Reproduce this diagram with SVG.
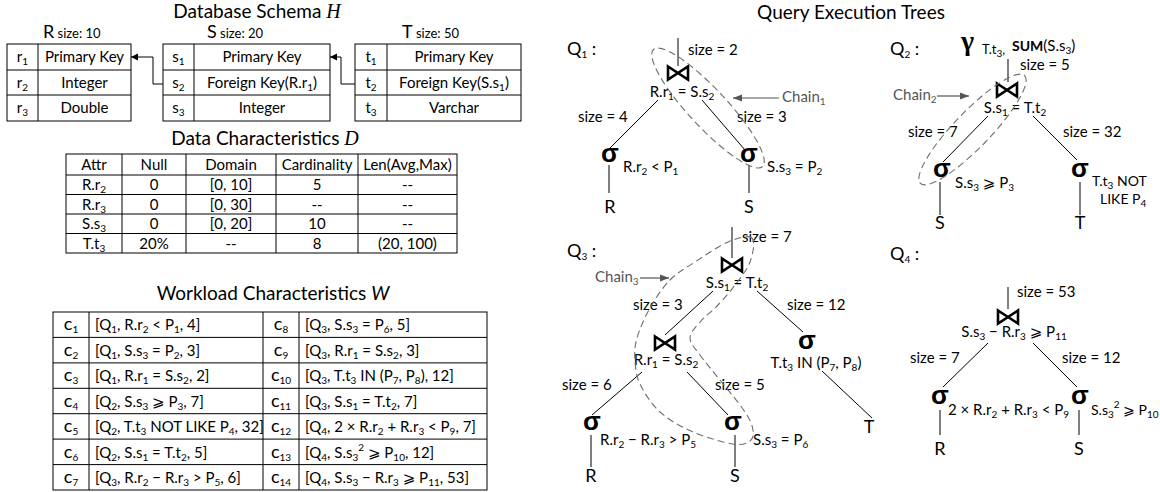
<svg xmlns="http://www.w3.org/2000/svg" width="1160" height="492" viewBox="0 0 1160 492">
<style>
text{font-family:Lato,"DejaVu Sans",sans-serif;font-size:15px;fill:#000}
.m{text-anchor:middle}
.ttl{font-size:19px;text-anchor:middle}
.mi{font-family:"Liberation Serif",serif;font-style:italic;font-size:20px}
.wi{font-style:italic}
.s{font-size:10px;baseline-shift:-3px}
.u{font-size:10px;baseline-shift:7px}
.sm{font-size:13px}
.bg{font-size:18px}
.cl{font-size:18px}
.sig{font-family:"Liberation Sans",sans-serif;font-weight:bold;font-size:26px;text-anchor:middle}
.lf{font-size:18px;text-anchor:middle}
.q{font-size:18px}
.g{fill:none;stroke:#000;stroke-width:1}
.e{fill:none;stroke:#000;stroke-width:1}
.ch{fill:none;stroke:#6e6e6e;stroke-width:1.1;stroke-dasharray:7 4}
.ct{fill:#555}
.ca{stroke:#555;stroke-width:1.2;fill:none}
</style>
<defs>
<marker id="ab" markerWidth="8" markerHeight="8" refX="7" refY="4" orient="auto" markerUnits="userSpaceOnUse"><path d="M0,0.5 L7,4 L0,7.5 Z" fill="#000"/></marker>
<marker id="ag" markerWidth="10" markerHeight="8" refX="9" refY="4" orient="auto" markerUnits="userSpaceOnUse"><path d="M0,0.5 L9,4 L0,7.5 Z" fill="#555"/></marker>
<path id="join" d="M-10,-6.5 L10,6.5 L10,-6.5 L-10,6.5 Z" fill="none" stroke="#000" stroke-width="2.6" stroke-linejoin="miter"/>
</defs>

<!-- Titles -->
<g id="titles">
<text class="ttl" x="257" y="18">Database Schema <tspan class="mi">H</tspan></text>
<text class="ttl" x="265" y="145">Data Characteristics <tspan class="mi">D</tspan></text>
<text class="ttl" x="273" y="300">Workload Characteristics <tspan class="wi">W</tspan></text>
<text class="ttl" x="851" y="19">Query Execution Trees</text>
</g>

<!-- Schema tables -->
<g id="table-R">
<text x="43" y="38"><tspan class="bg">R</tspan><tspan class="sm"> size: 10</tspan></text>
<rect class="g" x="7" y="44" width="124" height="77"/>
<path class="g" d="M7,70H131M7,95H131M38,44V121"/>
<text class="m" x="22.5" y="62">r<tspan class="s">1</tspan></text>
<text class="m" x="84.5" y="62">Primary Key</text>
<text class="m" x="22.5" y="88">r<tspan class="s">2</tspan></text>
<text class="m" x="84.5" y="88">Integer</text>
<text class="m" x="22.5" y="113">r<tspan class="s">3</tspan></text>
<text class="m" x="84.5" y="113">Double</text>
</g>
<g id="table-S">
<text x="207" y="38"><tspan class="bg">S</tspan><tspan class="sm"> size: 20</tspan></text>
<rect class="g" x="163" y="44" width="167" height="77"/>
<path class="g" d="M163,70H330M163,95H330M194,44V121"/>
<text class="m" x="178.5" y="62">s<tspan class="s">1</tspan></text>
<text class="m" x="262" y="62">Primary Key</text>
<text class="m" x="178.5" y="88">s<tspan class="s">2</tspan></text>
<text class="m" x="262" y="88">Foreign Key(R.r<tspan class="s">1</tspan>)</text>
<text class="m" x="178.5" y="113">s<tspan class="s">3</tspan></text>
<text class="m" x="262" y="113">Integer</text>
</g>
<g id="table-T">
<text x="402" y="38"><tspan class="bg">T</tspan><tspan class="sm"> size: 50</tspan></text>
<rect class="g" x="355" y="44" width="166" height="77"/>
<path class="g" d="M355,70H521M355,95H521M387,44V121"/>
<text class="m" x="371" y="62">t<tspan class="s">1</tspan></text>
<text class="m" x="454" y="62">Primary Key</text>
<text class="m" x="371" y="88">t<tspan class="s">2</tspan></text>
<text class="m" x="454" y="88">Foreign Key(S.s<tspan class="s">1</tspan>)</text>
<text class="m" x="371" y="113">t<tspan class="s">3</tspan></text>
<text class="m" x="454" y="113">Varchar</text>
</g>

<!-- Data characteristics table -->
<g id="table-D">
<rect class="g" x="66" y="154" width="391" height="99"/>
<path class="g" d="M66,175H457M66,194.5H457M66,214H457M66,233.5H457M122,154V253M186,154V253M276,154V253M358,154V253"/>
<text class="m" x="94" y="170">Attr</text>
<text class="m" x="154" y="170">Null</text>
<text class="m" x="231" y="170">Domain</text>
<text class="m" x="317" y="170">Cardinality</text>
<text class="m" x="407.5" y="170">Len(Avg,Max)</text>
<text class="m" x="94" y="190">R.r<tspan class="s">2</tspan></text>
<text class="m" x="154" y="190">0</text>
<text class="m" x="231" y="190">[0, 10]</text>
<text class="m" x="317" y="190">5</text>
<text class="m" x="407.5" y="190">--</text>
<text class="m" x="94" y="209.5">R.r<tspan class="s">3</tspan></text>
<text class="m" x="154" y="209.5">0</text>
<text class="m" x="231" y="209.5">[0, 30]</text>
<text class="m" x="317" y="209.5">--</text>
<text class="m" x="407.5" y="209.5">--</text>
<text class="m" x="94" y="229">S.s<tspan class="s">3</tspan></text>
<text class="m" x="154" y="229">0</text>
<text class="m" x="231" y="229">[0, 20]</text>
<text class="m" x="317" y="229">10</text>
<text class="m" x="407.5" y="229">--</text>
<text class="m" x="94" y="248.5">T.t<tspan class="s">3</tspan></text>
<text class="m" x="154" y="248.5">20%</text>
<text class="m" x="231" y="248.5">--</text>
<text class="m" x="317" y="248.5">8</text>
<text class="m" x="407.5" y="248.5">(20, 100)</text>
</g>

<!-- Workload table -->
<g id="table-W">
<rect class="g" x="53" y="312" width="434" height="178"/>
<path class="g" d="M53,337.4H487M53,362.9H487M53,388.3H487M53,413.7H487M53,439.1H487M53,464.6H487M89,312V490M263,312V490M299,312V490"/>
<text class="m" x="71" y="330"><tspan class="cl">c</tspan><tspan class="s">1</tspan></text>
<text x="95" y="330">[Q<tspan class="s">1</tspan>, R.r<tspan class="s">2</tspan> &lt; P<tspan class="s">1</tspan>, 4]</text>
<text class="m" x="71" y="355.5"><tspan class="cl">c</tspan><tspan class="s">2</tspan></text>
<text x="95" y="355.5">[Q<tspan class="s">1</tspan>, S.s<tspan class="s">3</tspan> = P<tspan class="s">2</tspan>, 3]</text>
<text class="m" x="71" y="381"><tspan class="cl">c</tspan><tspan class="s">3</tspan></text>
<text x="95" y="381">[Q<tspan class="s">1</tspan>, R.r<tspan class="s">1</tspan> = S.s<tspan class="s">2</tspan>, 2]</text>
<text class="m" x="71" y="406.5"><tspan class="cl">c</tspan><tspan class="s">4</tspan></text>
<text x="95" y="406.5">[Q<tspan class="s">2</tspan>, S.s<tspan class="s">3</tspan> ⩾ P<tspan class="s">3</tspan>, 7]</text>
<text class="m" x="71" y="432"><tspan class="cl">c</tspan><tspan class="s">5</tspan></text>
<text x="95" y="432">[Q<tspan class="s">2</tspan>, T.t<tspan class="s">3</tspan> NOT LIKE P<tspan class="s">4</tspan>, 32]</text>
<text class="m" x="71" y="457.5"><tspan class="cl">c</tspan><tspan class="s">6</tspan></text>
<text x="95" y="457.5">[Q<tspan class="s">2</tspan>, S.s<tspan class="s">1</tspan> = T.t<tspan class="s">2</tspan>, 5]</text>
<text class="m" x="71" y="483"><tspan class="cl">c</tspan><tspan class="s">7</tspan></text>
<text x="95" y="483">[Q<tspan class="s">3</tspan>, R.r<tspan class="s">2</tspan> − R.r<tspan class="s">3</tspan> &gt; P<tspan class="s">5</tspan>, 6]</text>
<text class="m" x="281" y="330"><tspan class="cl">c</tspan><tspan class="s">8</tspan></text>
<text x="305" y="330">[Q<tspan class="s">3</tspan>, S.s<tspan class="s">3</tspan> = P<tspan class="s">6</tspan>, 5]</text>
<text class="m" x="281" y="355.5"><tspan class="cl">c</tspan><tspan class="s">9</tspan></text>
<text x="305" y="355.5">[Q<tspan class="s">3</tspan>, R.r<tspan class="s">1</tspan> = S.s<tspan class="s">2</tspan>, 3]</text>
<text class="m" x="281" y="381"><tspan class="cl">c</tspan><tspan class="s">10</tspan></text>
<text x="305" y="381">[Q<tspan class="s">3</tspan>, T.t<tspan class="s">3</tspan> IN (P<tspan class="s">7</tspan>, P<tspan class="s">8</tspan>), 12]</text>
<text class="m" x="281" y="406.5"><tspan class="cl">c</tspan><tspan class="s">11</tspan></text>
<text x="305" y="406.5">[Q<tspan class="s">3</tspan>, S.s<tspan class="s">1</tspan> = T.t<tspan class="s">2</tspan>, 7]</text>
<text class="m" x="281" y="432"><tspan class="cl">c</tspan><tspan class="s">12</tspan></text>
<text x="305" y="432">[Q<tspan class="s">4</tspan>, 2 × R.r<tspan class="s">2</tspan> + R.r<tspan class="s">3</tspan> &lt; P<tspan class="s">9</tspan>, 7]</text>
<text class="m" x="281" y="457.5"><tspan class="cl">c</tspan><tspan class="s">13</tspan></text>
<text x="305" y="457.5">[Q<tspan class="s">4</tspan>, S.s<tspan class="s">3</tspan><tspan class="u">2</tspan> ⩾ P<tspan class="s">10</tspan>, 12]</text>
<text class="m" x="281" y="483"><tspan class="cl">c</tspan><tspan class="s">14</tspan></text>
<text x="305" y="483">[Q<tspan class="s">4</tspan>, S.s<tspan class="s">3</tspan> − R.r<tspan class="s">3</tspan> ⩾ P<tspan class="s">11</tspan>, 53]</text>
</g>

<!-- Connectors -->
<g id="connectors">
<path class="e" d="M163,84H153V57H131" marker-end="url(#ab)"/>
<path class="e" d="M355,84H341V57H330" marker-end="url(#ab)"/>
<!-- Q1 -->
<path class="e" d="M678,38V66M658,100L608,150M702,100L745,150M609,165V193M749,165V193"/>
<text x="688" y="55">size = 2</text>
<text x="578" y="122">size = 4</text>
<text x="737" y="122">size = 3</text>
<!-- Q2 -->
<path class="e" d="M1008,59V82M988,116L943,162M1033,116L1077,160M940,182V215M1080,182V215"/>
<text x="1020" y="70">size = 5</text>
<text x="908" y="137">size = 7</text>
<text x="1063" y="137">size = 32</text>
<!-- Q3 -->
<path class="e" d="M732,227V258M713,291L665,335M757,291L803,332M642,372L592,415M687,372L728,415M822,371L872,418M591,435V467M735,435V467"/>
<text x="742" y="242">size = 7</text>
<text x="633" y="310">size = 3</text>
<text x="787" y="310">size = 12</text>
<text x="562" y="390">size = 6</text>
<text x="715" y="390">size = 5</text>
<!-- Q4 -->
<path class="e" d="M1008,287V309M988,343L943,387M1033,343L1077,387M940,410V435M1079,410V435"/>
<text x="1017" y="297">size = 53</text>
<text x="910" y="363">size = 7</text>
<text x="1062" y="363">size = 12</text>
</g>

<!-- Q1 tree -->
<g id="q1-label"><text class="q" x="567" y="55">Q<tspan class="s">1</tspan> :</text></g>
<g id="q1-join">
<use href="#join" x="678" y="73"/>
<text class="m" x="682" y="97">R.r<tspan class="s">1</tspan> = S.s<tspan class="s">2</tspan></text>
</g>
<g id="q1-selR">
<text class="sig" x="610" y="162">σ</text>
<text x="623" y="172">R.r<tspan class="s">2</tspan> &lt; P<tspan class="s">1</tspan></text>
</g>
<g id="q1-selS">
<text class="sig" x="749" y="162">σ</text>
<text x="767" y="172">S.s<tspan class="s">3</tspan> = P<tspan class="s">2</tspan></text>
</g>
<g id="q1-R"><text class="lf" x="610" y="213">R</text></g>
<g id="q1-S"><text class="lf" x="749" y="213">S</text></g>
<g id="q1-chain">
<ellipse class="ch" cx="708" cy="108" rx="80" ry="19" transform="rotate(47 708 108)"/>
<line class="ca" x1="779" y1="98" x2="733" y2="98" marker-end="url(#ag)"/>
<text class="ct" x="782" y="102">Chain<tspan class="s">1</tspan></text>
</g>

<!-- Q2 tree -->
<g id="q2-label"><text class="q" x="890" y="55">Q<tspan class="s">2</tspan> :</text></g>
<g id="q2-agg">
<text x="961" y="50" style="font-family:'Liberation Serif',serif;font-size:28px;font-weight:bold">γ</text>
<text x="982" y="54" style="font-size:13px">T.t<tspan class="s">3</tspan>,</text>
<text x="1012" y="51"><tspan style="font-weight:bold;font-size:14px">SUM</tspan>(S.s<tspan class="s">3</tspan>)</text>
</g>
<g id="q2-join">
<use href="#join" x="1007" y="90"/>
<text class="m" x="1015" y="113">S.s<tspan class="s">1</tspan> = T.t<tspan class="s">2</tspan></text>
</g>
<g id="q2-selS">
<text class="sig" x="942" y="177">σ</text>
<text x="955" y="188">S.s<tspan class="s">3</tspan> ⩾ P<tspan class="s">3</tspan></text>
</g>
<g id="q2-selT">
<text class="sig" x="1080" y="177">σ</text>
<text x="1092" y="186" style="font-size:14px">T.t<tspan class="s">3</tspan> NOT</text>
<text x="1100" y="204" style="font-size:14px">LIKE P<tspan class="s">4</tspan></text>
</g>
<g id="q2-S"><text class="lf" x="940" y="229">S</text></g>
<g id="q2-T"><text class="lf" x="1080" y="229">T</text></g>
<g id="q2-chain">
<ellipse class="ch" cx="972.5" cy="129.5" rx="75" ry="18" transform="rotate(-46 972.5 129.5)"/>
<line class="ca" x1="937" y1="96" x2="969" y2="96" marker-end="url(#ag)"/>
<text class="ct" x="893" y="100">Chain<tspan class="s">2</tspan></text>
</g>

<!-- Q3 tree -->
<g id="q3-label"><text class="q" x="567" y="257">Q<tspan class="s">3</tspan> :</text></g>
<g id="q3-join1">
<use href="#join" x="732" y="265"/>
<text class="m" x="737" y="288">S.s<tspan class="s">1</tspan> = T.t<tspan class="s">2</tspan></text>
</g>
<g id="q3-join2">
<use href="#join" x="665" y="343"/>
<text class="m" x="666" y="365">R.r<tspan class="s">1</tspan> = S.s<tspan class="s">2</tspan></text>
</g>
<g id="q3-selT">
<text class="sig" x="807" y="349">σ</text>
<text class="m" x="816" y="368">T.t<tspan class="s">3</tspan> IN (P<tspan class="s">7</tspan>, P<tspan class="s">8</tspan>)</text>
</g>
<g id="q3-selR">
<text class="sig" x="592" y="430">σ</text>
<text x="600" y="445">R.r<tspan class="s">2</tspan> − R.r<tspan class="s">3</tspan> &gt; P<tspan class="s">5</tspan></text>
</g>
<g id="q3-selS">
<text class="sig" x="733" y="430">σ</text>
<text x="753" y="445">S.s<tspan class="s">3</tspan> = P<tspan class="s">6</tspan></text>
</g>
<g id="q3-R"><text class="lf" x="591" y="482">R</text></g>
<g id="q3-S"><text class="lf" x="735" y="482">S</text></g>
<g id="q3-T"><text class="lf" x="869" y="433">T</text></g>
<g id="q3-chain">
<path class="ch" d="M752,238 C748.3,234.7 737.5,238 728,242 C718.5,246 704.7,255.7 695,262 C685.3,268.3 677.5,272.3 670,280 C662.5,287.7 655.5,298.3 650,308 C644.5,317.7 639.5,329.3 637,338 C634.5,346.7 634.5,352.3 635,360 C635.5,367.7 635.8,375.3 640,384 C644.2,392.7 651.2,404 660,412 C668.8,420 680.8,426.7 693,432 C705.2,437.3 723.5,442.5 733,444 C742.5,445.5 746.7,443.3 750,441 C753.3,438.7 753.8,434.8 753,430 C752.2,425.2 750.5,420.3 745,412 C739.5,403.7 727.5,389.5 720,380 C712.5,370.5 705,362 700,355 C695,348 690,343.5 690,338 C690,332.5 695.3,327.5 700,322 C704.7,316.5 712.2,311.2 718,305 C723.8,298.8 729.7,292.2 735,285 C740.3,277.8 747.2,269.8 750,262 C752.8,254.2 755.7,241.3 752,238 Z"/>
<line class="ca" x1="640" y1="278" x2="669" y2="278" marker-end="url(#ag)"/>
<text class="ct" x="595" y="282">Chain<tspan class="s">3</tspan></text>
</g>

<!-- Q4 tree -->
<g id="q4-label"><text class="q" x="890" y="260">Q<tspan class="s">4</tspan> :</text></g>
<g id="q4-join">
<use href="#join" x="1008" y="317"/>
<text class="m" x="1014" y="337">S.s<tspan class="s">3</tspan> − R.r<tspan class="s">3</tspan> ⩾ P<tspan class="s">11</tspan></text>
</g>
<g id="q4-selR">
<text class="sig" x="940" y="404">σ</text>
<text x="948" y="415">2 × R.r<tspan class="s">2</tspan> + R.r<tspan class="s">3</tspan> &lt; P<tspan class="s">9</tspan></text>
</g>
<g id="q4-selS">
<text class="sig" x="1080" y="404">σ</text>
<text x="1091" y="415" style="font-size:14px">S.s<tspan class="s">3</tspan><tspan class="u">2</tspan> ⩾ P<tspan class="s">10</tspan></text>
</g>
<g id="q4-R"><text class="lf" x="940" y="455">R</text></g>
<g id="q4-S"><text class="lf" x="1079" y="455">S</text></g>
</svg>
